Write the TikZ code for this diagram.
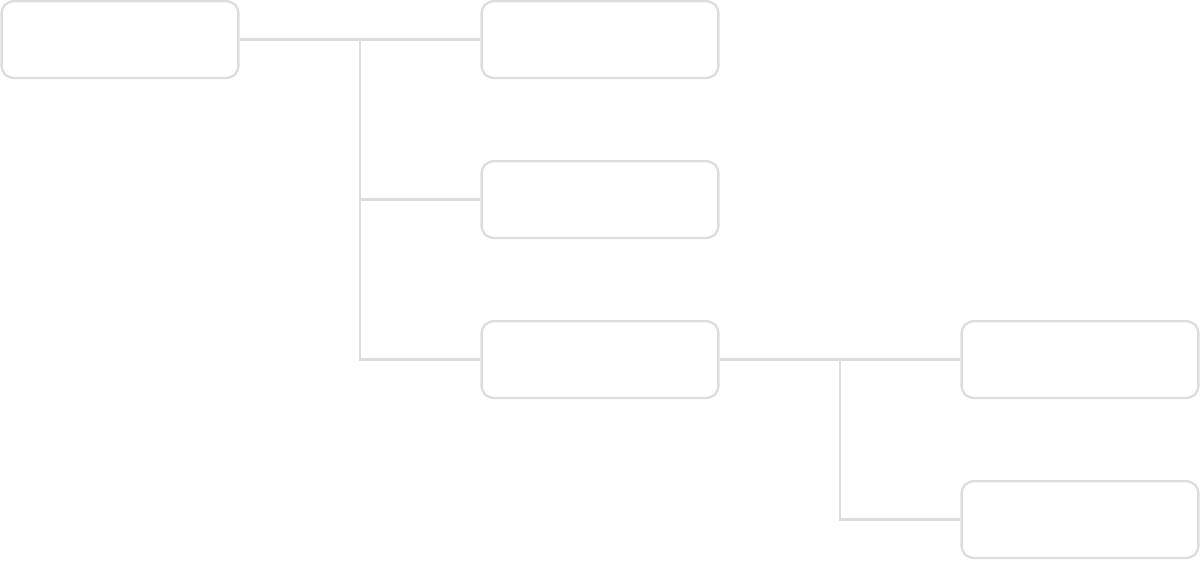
\documentclass[tikz,border=0pt]{standalone}
\definecolor{linegray}{HTML}{DDDDDD}
\begin{document}
\begin{tikzpicture}[line width=1.7pt, draw=linegray,
        box/.style={draw=linegray, rounded corners=0.3cm, inner sep=0pt,
            minimum width=5.92cm, minimum height=1.92cm}]
            \useasboundingbox (0,0) rectangle (30,14);
            \node[box] (root) at (3,13.01) {};
            \foreach \i/\y in {1/13.01,2/9.01,3/5.01}
                \node[box] (kid\i) at (15,\y) {};
            \foreach \i/\y in {1/5.01,2/1.01}
                \node[box] (leaf\i) at (27,\y) {};
            \coordinate (j1) at (9,13.01);
            \coordinate (j2) at (21,5.01);
            \draw[linegray] (root.east) -- (j1);
            \foreach \i in {1,2,3}
                \draw[linegray] (j1) |- (kid\i.west);
            \draw[linegray] (kid3.east) -- (j2);
            \foreach \i in {1,2}
                \draw[linegray] (j2) |- (leaf\i.west);
        \end{tikzpicture}
\end{document}
